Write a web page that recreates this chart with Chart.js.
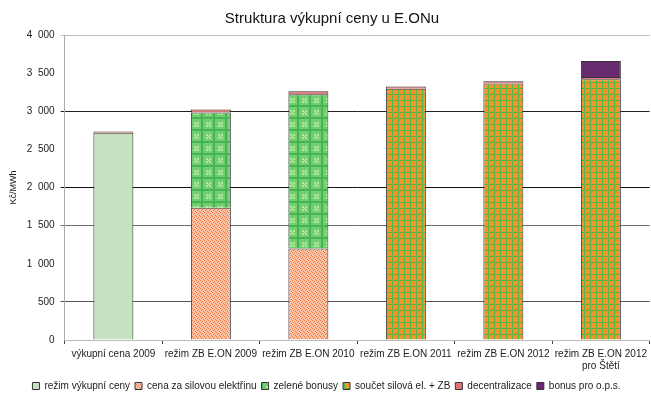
<!DOCTYPE html>
<html lang="cs">
<head>
    <meta charset="UTF-8">
    <title>Struktura výkupní ceny u E.ONu</title>
    <script src="https://cdn.jsdelivr.net/npm/chart.js"></script>
    <style>
        body { margin: 0; background: #fff; }
        .wrap { width: 651px; height: 401px; }
    </style>
</head>
<body>
    <div class="wrap"><canvas id="chart"></canvas></div>
    <script>
        const categories = ['výkupní cena 2009', 'režim ZB E.ON 2009', 'režim ZB E.ON 2010',
            'režim ZB E.ON 2011', 'režim ZB E.ON 2012', ['režim ZB E.ON 2012', 'pro Štětí']];
        const rezimVykupniCeny = [2718, null, null, null, null, null];
        const cenaSilova = [null, 1735, 1200, null, null, null];
        const zeleneBonusy = [null, 1250, 2022, null, null, null];
        const soucet = [null, null, null, 3295, 3365, 3420];
        const decentralizace = [15, 38, 40, 30, 28, 28];
        const bonusOps = [null, null, null, null, null, 210];
        const yTicks = [0, 500, 1000, 1500, 2000, 2500, 3000, 3500, 4000];

        // fill patterns, tiny tiles like the old excel ones
        const makePattern = (size, draw) => {
            const c = document.createElement('canvas');
            c.width = size; c.height = size;
            const g = c.getContext('2d');
            draw(g);
            return g.createPattern(c, 'repeat');
        };
        const dots = makePattern(4, g => {
            g.fillStyle = '#f9c6aa'; g.fillRect(0, 0, 4, 4);
            g.fillStyle = '#ee7440';
            g.fillRect(0, 0, 1, 1); g.fillRect(2, 1, 1, 1);
            g.fillRect(1, 2, 1, 1); g.fillRect(3, 3, 1, 1);
        });
        const checks = makePattern(12, g => {
            g.fillStyle = '#72cd74'; g.fillRect(0, 0, 12, 12);
            g.fillStyle = '#b4e896';
            g.fillRect(2, 2, 2, 2); g.fillRect(5, 2, 2, 2);
            g.fillRect(2, 5, 2, 2); g.fillRect(5, 5, 2, 2);
            g.fillStyle = '#d8f6b4';
            g.fillRect(4, 4, 1, 1);
            g.fillStyle = '#44b651';
            g.fillRect(9, 0, 2, 12); g.fillRect(0, 9, 12, 2);
        });
        const plaid = makePattern(6, g => {
            g.fillStyle = '#f2962c'; g.fillRect(0, 0, 6, 6);
            g.fillStyle = '#4cb848';
            g.fillRect(2, 0, 1, 6); g.fillRect(0, 4, 6, 1);
            g.fillStyle = '#9aa83a';
            g.fillRect(2, 4, 1, 1);
        });

        const gridColors = { 4000: '#bdbdbd', 3000: '#222', 2000: '#111', 1500: '#6e6e6e', 500: '#555' };

        const titlePlugin = {
            id: 'leftTitle',
            afterDraw(chart) {
                const ctx = chart.ctx;
                ctx.save();
                ctx.font = '15px "Liberation Sans", Arial, sans-serif';
                ctx.fillStyle = '#111';
                ctx.textAlign = 'center';
                ctx.textBaseline = 'middle';
                ctx.fillText('Struktura výkupní ceny u E.ONu', 332, 19);
                ctx.restore();
            }
        };

        const ds = (label, data, bg) => ({
            label, data, backgroundColor: bg,
            borderColor: '#333', borderWidth: 1,
            barPercentage: 0.41, categoryPercentage: 1
        });

        Chart.defaults.font.family = '"Liberation Sans", Arial, sans-serif';
        Chart.defaults.font.size = 10;
        Chart.defaults.color = '#222';

        new Chart(document.getElementById('chart'), {
            type: 'bar',
            data: {
                labels: categories,
                datasets: [
                    ds('režim výkupní ceny', rezimVykupniCeny, '#c6e3c1'),
                    ds('cena za silovou elektřinu', cenaSilova, dots),
                    ds('zelené bonusy', zeleneBonusy, checks),
                    ds('součet silová el. + ZB', soucet, plaid),
                    ds('decentralizace', decentralizace, '#e27474'),
                    ds('bonus pro o.p.s.', bonusOps, '#682a6e')
                ]
            },
            options: {
                responsive: true,
                maintainAspectRatio: false,
                animation: false,
                layout: { padding: { top: 35, left: 2, right: 0, bottom: 0 } },
                plugins: {
                    legend: {
                        position: 'bottom',
                        labels: { boxWidth: 7, boxHeight: 7, padding: 5, font: { size: 10 } }
                    },
                    tooltip: { enabled: false }
                },
                scales: {
                    x: {
                        stacked: true,
                        grid: { drawOnChartArea: false, tickLength: 4, color: '#444' },
                        border: { color: '#bbb' },
                        ticks: { maxRotation: 0, autoSkip: false, padding: 4, font: { size: 10, lineHeight: 1.2 } }
                    },
                    y: {
                        stacked: true,
                        min: 0, max: 4000,
                        afterBuildTicks: axis => { axis.ticks = yTicks.map(v => ({ value: v })); },
                        ticks: {
                            padding: 6,
                            callback: v => v >= 1000 ? Math.floor(v / 1000) + '  ' + String(v % 1000).padStart(3, '0') : String(v)
                        },
                        grid: {
                            tickLength: 4,
                            color: c => gridColors[c.tick.value] || 'rgba(0,0,0,0)',
                            lineWidth: 1
                        },
                        border: { color: '#aaa' },
                        title: { display: true, text: 'Kč/MWh', font: { size: 9 }, padding: { top: 6, bottom: 2 } }
                    }
                }
            },
            plugins: [titlePlugin]
        });
    </script>
</body>
</html>
